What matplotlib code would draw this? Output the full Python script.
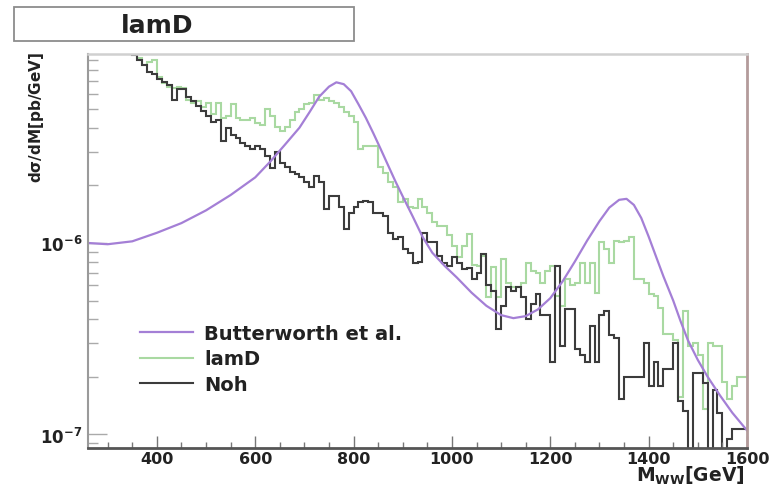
import numpy as np
import matplotlib
matplotlib.use("Agg")
import matplotlib.pyplot as plt
from matplotlib.ticker import MultipleLocator, LogLocator, NullFormatter, FixedLocator, FuncFormatter
from matplotlib.patches import Rectangle

plt.rcParams['font.family'] = ['DejaVu Sans']
plt.rcParams['mathtext.fontset'] = 'dejavusans'

# ---------------- data ----------------
title_text = "lamD"
series_labels = ["Butterworth et al.", "lamD", "Noh"]
y_unit = 1e-7            # values below are in units of 1e-7 pb/GeV
m_first_edge = 260.0     # GeV
bin_width = 10.0         # GeV

# Butterworth et al. curve (M [GeV], dsigma/dM in 1e-7 pb/GeV)
butter_m = [260, 300, 350, 400, 450, 500, 550, 600, 630, 660, 690, 710, 730, 750, 765,
            780, 795, 810, 825, 840, 855, 870, 885, 900, 920, 940, 960, 985, 1010, 1040,
            1070, 1100, 1125, 1150, 1175, 1200, 1225, 1250, 1275, 1300, 1320, 1340, 1355,
            1370, 1385, 1400, 1415, 1430, 1450, 1465, 1480, 1500, 1520, 1545, 1570, 1600]
butter_v = [10.0, 9.85, 10.2, 11.3, 12.7, 14.8, 17.8, 22.0, 26.5, 32.5, 40.0, 48.0, 58.0, 65.5, 69.0,
            67.5, 62.0, 53.0, 45.0, 37.5, 31.0, 25.5, 21.0, 17.5, 13.8, 10.8, 8.9, 7.6, 6.6, 5.5,
            4.7, 4.2, 4.05, 4.15, 4.5, 5.15, 6.3, 8.0, 10.3, 13.0, 15.3, 16.8, 17.0,
            15.8, 13.5, 10.8, 8.5, 6.7, 5.0, 3.9, 3.1, 2.45, 2.0, 1.6, 1.3, 1.05]

# lamD histogram, 10 GeV bins from 260 GeV (units 1e-7 pb/GeV)
lamd_v = [150, 145, 138, 132, 125, 118, 112, 107, 102, 98,        # 260-350
          93, 85, 88, 90, 73.6, 68.5, 65.6, 64.6, 65.6, 64.6,      # 360-450
          56, 54, 55, 51, 54, 47, 54, 45, 46, 53,                  # 460-550
          45, 44, 44, 45, 42.5, 41.5, 50, 46, 40.5, 38.3,          # 560-650
          40.5, 44, 48.5, 50, 53, 54, 59, 56, 57, 55,              # 660-750
          54, 51, 48.5, 46, 43, 31, 32, 32, 32, 25,                # 760-850
          23.3, 20.7, 19.7, 16.3, 16.9, 15.5, 15.2, 16.9, 15.5, 14.4,  # 860-950
          12.8, 12.2, 12.2, 11.0, 9.6, 8.4, 9.6, 11.1, 7.7, 7.6,   # 960-1050
          8.6, 5.2, 7.5, 5.2, 8.2, 6.2, 5.9, 5.9, 6.2, 7.9,        # 1060-1150
          7.1, 7.0, 6.2, 7.1, 7.6, 5.3, 4.7, 6.5, 6.0, 6.2,        # 1160-1250
          7.9, 6.2, 7.9, 5.5, 10.1, 9.3, 7.9, 10.2, 10.1, 10.2,    # 1260-1350
          10.7, 6.5, 6.5, 6.2, 5.4, 5.3, 4.6, 3.35, 3.35, 3.1,     # 1360-1450
          1.57, 4.4, 2.9, 3.0, 2.6, 1.36, 3.0, 2.9, 2.9, 1.88,     # 1460-1550
          1.54, 1.8, 2.0, 2.0]                                     # 1560-1590

# Noh histogram, 10 GeV bins from 260 GeV (units 1e-7 pb/GeV)
noh_v = [150, 145, 140, 132, 128, 120, 115, 108, 102, 96,         # 260-350
         90, 85, 78, 76, 72, 69, 67, 56, 64, 64,                  # 360-450
         58, 55, 52, 49, 46, 43, 44, 34, 40, 36.6,                # 460-550
         35.5, 33.4, 32, 31, 32, 31, 28.4, 24.7, 30, 26.3,        # 560-650
         25, 23.6, 22.9, 22, 20.7, 19.7, 22.3, 20.7, 15, 17.5,    # 660-750
         17.5, 15.5, 11.8, 14.4, 15.5, 16.3, 16.6, 16.3, 14.4, 14.4,  # 760-850
         13.8, 11.3, 10.5, 10.8, 9.3, 8.9, 7.9, 8.0, 11.3, 10.1,  # 860-950
         10.1, 8.6, 7.9, 7.6, 8.4, 7.9, 7.3, 7.4, 6.5, 7.0,       # 960-1050
         8.8, 6.0, 5.6, 3.55, 4.7, 5.9, 5.6, 5.9, 5.2, 4.0,       # 1060-1150
         4.8, 5.4, 4.2, 4.2, 2.4, 7.6, 2.9, 4.5, 4.5, 2.8,        # 1160-1250
         2.6, 2.4, 3.7, 2.4, 4.2, 4.4, 3.3, 3.2, 1.54, 2.0,       # 1260-1350
         2.0, 2.0, 2.0, 3.0, 1.8, 2.4, 1.8, 2.2, 2.2, 3.0,        # 1360-1450
         1.5, 1.33, 0.5, 2.1, 2.1, 1.85, 0.5, 1.7, 1.3, 0.5,      # 1460-1550
         0.95, 1.07, 1.07, 1.07]                                  # 1560-1590

x_range = (260, 1600)
y_range = (0.85, 97.0)   # in 1e-7 units
y_major = [1e-7, 1e-6]
y_major_labels = [r'$\mathbf{10^{-7}}$', r'$\mathbf{10^{-6}}$']

# ---------------- styles ----------------
c_butter = '#a47fd6'
c_lamd = '#a9d9a2'
c_noh = '#3c3c3c'

W, H = 778, 489
fig = plt.figure(figsize=(W / 100, H / 100), dpi=100)
ax = fig.add_axes([88 / W, 40 / H, 659 / W, 394 / H])

edges_l = m_first_edge + bin_width * np.arange(len(lamd_v) + 1)
edges_n = m_first_edge + bin_width * np.arange(len(noh_v) + 1)

h_l = ax.stairs(np.array(lamd_v) * y_unit, edges_l, baseline=None, color=c_lamd, lw=1.5, label=series_labels[1])
h_n = ax.stairs(np.array(noh_v) * y_unit, edges_n, baseline=None, color=c_noh, lw=1.5, label=series_labels[2])
h_b, = ax.plot(butter_m, np.array(butter_v) * y_unit, color=c_butter, lw=1.6, label=series_labels[0])

ax.set_yscale('log')
ax.set_xlim(*x_range)
ax.set_ylim(y_range[0] * y_unit, y_range[1] * y_unit)

ax.xaxis.set_major_locator(MultipleLocator(200))
ax.xaxis.set_minor_locator(MultipleLocator(50))
ax.xaxis.set_major_formatter(FuncFormatter(lambda v, p: f"{int(v)}"))
ax.yaxis.set_major_locator(FixedLocator(y_major))
ax.set_yticklabels(y_major_labels)
ax.yaxis.set_minor_locator(LogLocator(base=10, subs=np.arange(2, 10)))
ax.yaxis.set_minor_formatter(NullFormatter())

ax.tick_params(axis='x', which='major', direction='in', length=9, width=1.0, color='#777777',
               labelsize=11.5, pad=2, top=False)
ax.tick_params(axis='x', which='minor', direction='in', length=4.5, width=1.0, color='#777777', top=False)
ax.tick_params(axis='y', which='major', direction='in', length=14, width=1.0, color='#aaaaaa',
               labelsize=12, pad=4, right=False)
ax.tick_params(axis='y', which='minor', direction='in', length=7, width=1.0, color='#aaaaaa', right=False)
for lab in ax.get_xticklabels():
    lab.set_fontweight('bold')
    lab.set_color('#222222')
for lab in ax.get_yticklabels():
    lab.set_color('#222222')

ax.spines['left'].set_color('#9a9a9a')
ax.spines['left'].set_linewidth(1.5)
ax.spines['bottom'].set_color('#555555')
ax.spines['bottom'].set_linewidth(2.0)
ax.spines['top'].set_color('#d0d0d0')
ax.spines['top'].set_linewidth(1.8)
ax.spines['right'].set_color('#b39b9b')
ax.spines['right'].set_linewidth(2.0)

leg = ax.legend(handles=[h_b, h_l, h_n], labels=series_labels, loc='upper left',
                bbox_to_anchor=((140 - 88) / 659, (449 - 325) / 394), frameon=False,
                prop={'weight': 'bold', 'size': 14}, handlelength=2.7, handletextpad=0.6,
                labelspacing=0.33, borderpad=0, borderaxespad=0)
for t in leg.get_texts():
    t.set_color('#222222')

# title box
fig.patches.append(Rectangle((14 / W, 1 - 42 / H), 340 / W, 34 / H, transform=fig.transFigure,
                             facecolor='white', edgecolor='#8c8c8c', lw=1.3))
fig.text(157 / W, 1 - 26 / H, title_text, ha='center', va='center', fontsize=18,
         fontweight='bold', color='#222222')

# axis labels
fig.text(37 / W, 1 - 117 / H, r'd$\mathbf{\sigma}$/dM[pb/GeV]', rotation=90, ha='center', va='center',
         fontsize=11, fontweight='bold', color='#222222')
fig.text(745 / W, 1 - 482 / H, r'M$_{\mathbf{WW}}$[GeV]', ha='right', va='baseline',
         fontsize=13.5, fontweight='bold', color='#222222')

fig.savefig('out.png', dpi=100)
